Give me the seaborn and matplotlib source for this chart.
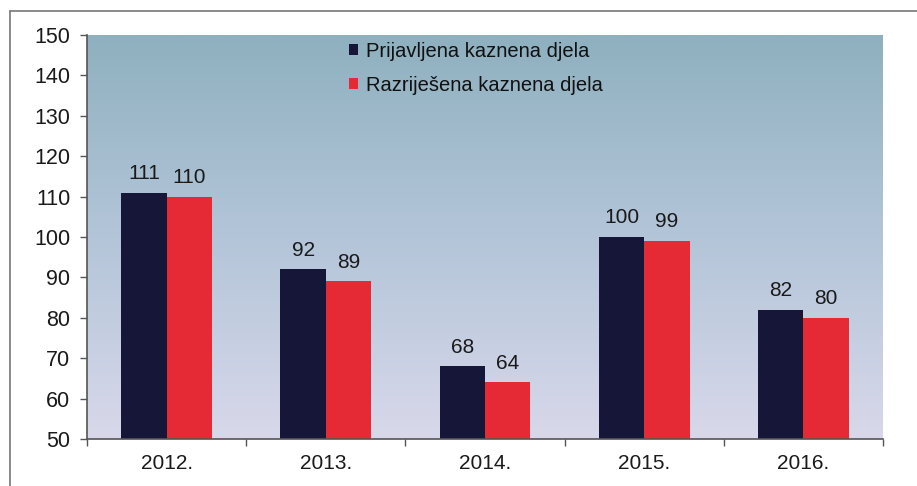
import matplotlib
matplotlib.use("Agg")
import matplotlib.pyplot as plt
import seaborn as sns
import pandas as pd
import numpy as np
from matplotlib.colors import LinearSegmentedColormap
from matplotlib.lines import Line2D

years = ["2012.", "2013.", "2014.", "2015.", "2016."]
prijavljena = [111, 92, 68, 100, 82]
razrijesena = [110, 89, 64, 99, 80]
series_names = ["Prijavljena kaznena djela", "Razriješena kaznena djela"]
y_ticks = [50, 60, 70, 80, 90, 100, 110, 120, 130, 140, 150]

df = pd.DataFrame({
    "year": years * 2,
    "value": prijavljena + razrijesena,
    "series": [series_names[0]] * len(years) + [series_names[1]] * len(years),
})

sns.set_theme(style="white")
plt.rcParams["font.family"] = ["Liberation Sans", "DejaVu Sans"]

fig = plt.figure(figsize=(9.17, 4.86), dpi=100)
ax = fig.add_axes([87 / 917, 1 - 439 / 486, (883 - 87) / 917, (439 - 35) / 486])

palette = ["#161639", "#e52a36"]
sns.barplot(data=df, x="year", y="value", hue="series", palette=palette,
            width=0.57, saturation=1, ax=ax, zorder=2, legend=True,
            linewidth=0, edgecolor="none")

ax.set_xlim(-0.5, 4.5)
ax.set_ylim(50, 150)

# gradient background (row 0 = bottom)
cmap = LinearSegmentedColormap.from_list(
    "bg", [(0.0, "#d8d8ea"), (0.55, "#b0c3d7"), (1.0, "#8eb0bf")])
grad = np.linspace(0, 1, 256).reshape(-1, 1)
ax.imshow(grad, aspect="auto", cmap=cmap, extent=[-0.5, 4.5, 50, 150],
          origin="lower", zorder=0)
ax.set_xlim(-0.5, 4.5)
ax.set_ylim(50, 150)

for cont in ax.containers:
    ax.bar_label(cont, padding=7, fontsize=15, color="#1a1a1a")

ax.set_yticks(y_ticks)
ax.set_xlabel("")
ax.set_ylabel("")
ax.tick_params(axis="y", which="major", length=5, width=1, color="#555555",
               labelsize=15.5, pad=7, direction="out", left=True)
ax.set_xticks(range(len(years)))
ax.set_xticklabels(years)
ax.tick_params(axis="x", which="major", length=0, labelsize=15, pad=11)
ax.set_xticks(np.arange(-0.5, 5.0, 1.0), minor=True)
ax.tick_params(axis="x", which="minor", length=5, width=1, color="#555555",
               direction="out", bottom=True)
for lab in ax.get_xticklabels() + ax.get_yticklabels():
    lab.set_color("#1a1a1a")

for s in ["top", "right"]:
    ax.spines[s].set_visible(False)
for s in ["left", "bottom"]:
    ax.spines[s].set_color("#555555")
    ax.spines[s].set_linewidth(1.2)

leg = ax.legend(loc="upper left", bbox_to_anchor=(0.306, 1.028), frameon=False,
                fontsize=14.5, handlelength=0.45, handleheight=0.45,
                handletextpad=0.4, labelspacing=0.75)
for t in leg.get_texts():
    t.set_color("#111111")

# outer frame lines (left and top)
fig.add_artist(Line2D([10 / 917, 10 / 917], [0, 1 - 11 / 486],
                      transform=fig.transFigure, color="#777777", lw=1.2))
fig.add_artist(Line2D([10 / 917, 1], [1 - 11 / 486, 1 - 11 / 486],
                      transform=fig.transFigure, color="#777777", lw=1.2))

fig.savefig("out.png", dpi=100)
